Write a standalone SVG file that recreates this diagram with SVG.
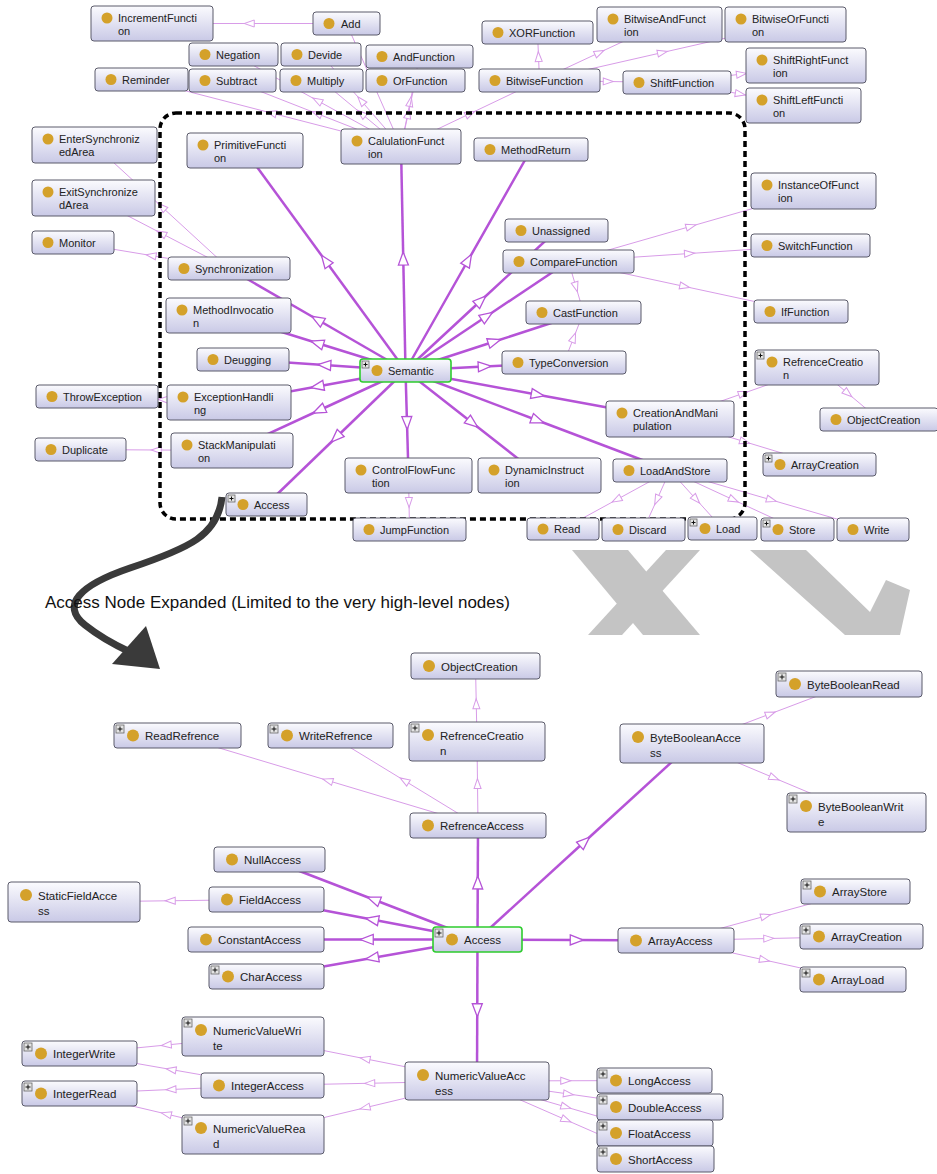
<svg xmlns="http://www.w3.org/2000/svg" width="937" height="1174" viewBox="0 0 937 1174">
<defs>
<linearGradient id="g" x1="0" y1="0" x2="0" y2="1"><stop offset="0" stop-color="#fbfbfe"/><stop offset="1" stop-color="#c9c9e6"/></linearGradient>
<marker id="mt" markerUnits="userSpaceOnUse" markerWidth="12" markerHeight="10" refX="5" refY="3.5" orient="auto" overflow="visible"><path d="M0,0 L10,3.5 L0,7 Z" fill="#fff" stroke="#d89ce8" stroke-width="1"/></marker>
<marker id="mk" markerUnits="userSpaceOnUse" markerWidth="16" markerHeight="12" refX="6.5" refY="5" orient="auto" overflow="visible"><path d="M0,0 L13,5 L0,10 Z" fill="#fff" stroke="#b553d7" stroke-width="1.3"/></marker>
<style>
.n{fill:url(#g);stroke:#5b5b6b;stroke-width:1}
.ng{fill:url(#g);stroke:#2ecc2e;stroke-width:1.6}
.d{fill:#d4a12a}
.t{font-family:"Liberation Sans",Arial,sans-serif;font-size:11px;fill:#222}
.b .t{font-size:11.5px}
.pb{fill:#e4e4e4;stroke:#666;stroke-width:0.8}
.pl{stroke:#111;stroke-width:1}
.e1{fill:none;stroke:#d89ce8;stroke-width:1;marker-mid:url(#mt)}
.e2{fill:none;stroke:#b553d7;stroke-width:2.5;marker-mid:url(#mk)}
.wm{fill:#c4c4c4}
</style>
</defs>
<rect width="937" height="1174" fill="#fff"/>

<g id="watermark">
<polygon class="wm" points="572,550 628,550 700,635 643,635"/>
<polygon class="wm" points="666,550 700,550 622,635 588,635"/>
<polygon class="wm" points="750,550 806,550 870,612 886,580 910,590 900,635 845,635"/>
</g>

<g id="connectors">
<path class="e1" d="M346.5,23.5 L249.25,23.5 L152,23.5"/>
<path class="e1" d="M401,146.5 L373.75,85 L346.5,23.5"/>
<path class="e1" d="M401,146.5 L317.25,100.5 L233.5,54.5"/>
<path class="e1" d="M401,146.5 L361,100.5 L321,54.5"/>
<path class="e1" d="M401,146.5 L410.25,101.5 L419.5,56.5"/>
<path class="e1" d="M401,146.5 L271.25,113 L141.5,79.5"/>
<path class="e1" d="M401,146.5 L316.75,113.5 L232.5,80.5"/>
<path class="e1" d="M401,146.5 L361.25,113.5 L321.5,80.5"/>
<path class="e1" d="M401,146.5 L408.25,113.5 L415.5,80.5"/>
<path class="e1" d="M401,146.5 L470.25,113.5 L539.5,80.5"/>
<path class="e1" d="M539.5,80.5 L538.5,56.5 L537.5,32.5"/>
<path class="e1" d="M539.5,80.5 L599.5,52.5 L659.5,24.5"/>
<path class="e1" d="M539.5,80.5 L662.5,52.5 L785.5,24.5"/>
<path class="e1" d="M539.5,80.5 L608.25,81.5 L677,82.5"/>
<path class="e1" d="M677,82.5 L741.5,74 L806,65.5"/>
<path class="e1" d="M677,82.5 L740.25,94 L803.5,105.5"/>
<path class="e1" d="M229,268.5 L161.75,206.75 L94.5,145"/>
<path class="e1" d="M229,268.5 L161.25,233.25 L93.5,198"/>
<path class="e1" d="M229,268.5 L151,255.5 L73,242.5"/>
<path class="e1" d="M568.5,261.5 L691,226.25 L813.5,191"/>
<path class="e1" d="M568.5,261.5 L689.5,253.5 L810.5,245.5"/>
<path class="e1" d="M568.5,261.5 L684.75,286.5 L801,311.5"/>
<path class="e1" d="M568.5,261.5 L576,287 L583.5,312.5"/>
<path class="e1" d="M564,362.5 L573.75,337.5 L583.5,312.5"/>
<path class="e1" d="M817,367.5 L848,393.5 L879,419.5"/>
<path class="e1" d="M670,419 L743.5,393.25 L817,367.5"/>
<path class="e1" d="M670,419 L744.75,441.75 L819.5,464.5"/>
<path class="e1" d="M670,470.5 L616.5,499.75 L563,529"/>
<path class="e1" d="M670,470.5 L656.75,500 L643.5,529.5"/>
<path class="e1" d="M670,470.5 L696.25,499.5 L722.5,528.5"/>
<path class="e1" d="M670,470.5 L733.75,500 L797.5,529.5"/>
<path class="e1" d="M670,470.5 L771.5,500 L873,529.5"/>
<path class="e1" d="M229,402.5 L163,399.5 L97,396.5"/>
<path class="e1" d="M232,450.5 L156.25,450 L80.5,449.5"/>
<path class="e1" d="M408.5,475.5 L409,502.5 L409.5,529.5"/>

<path class="e2" d="M405.5,370.5 L325.25,260.5 L245,150.5"/>
<path class="e2" d="M405.5,370.5 L403.25,258.5 L401,146.5"/>
<path class="e2" d="M405.5,370.5 L468.25,260 L531,149.5"/>
<path class="e2" d="M405.5,370.5 L317.25,319.5 L229,268.5"/>
<path class="e2" d="M405.5,370.5 L317,343 L228.5,315.5"/>
<path class="e2" d="M405.5,370.5 L324.25,365 L243,359.5"/>
<path class="e2" d="M405.5,370.5 L317.25,386.5 L229,402.5"/>
<path class="e2" d="M405.5,370.5 L318.75,410.5 L232,450.5"/>
<path class="e2" d="M405.5,370.5 L336,437.5 L266.5,504.5"/>
<path class="e2" d="M405.5,370.5 L407,423 L408.5,475.5"/>
<path class="e2" d="M405.5,370.5 L472.5,423 L539.5,475.5"/>
<path class="e2" d="M405.5,370.5 L537.75,420.5 L670,470.5"/>
<path class="e2" d="M405.5,370.5 L537.75,394.75 L670,419"/>
<path class="e2" d="M405.5,370.5 L484.75,366.5 L564,362.5"/>
<path class="e2" d="M405.5,370.5 L494.5,341.5 L583.5,312.5"/>
<path class="e2" d="M405.5,370.5 L487,316 L568.5,261.5"/>
<path class="e2" d="M405.5,370.5 L481,300.5 L556.5,230.5"/>

<path class="e1" d="M478,825.5 L477.5,783.5 L477,741.5"/>
<path class="e1" d="M477,741.5 L476.25,703.75 L475.5,666"/>
<path class="e1" d="M478,825.5 L404.25,780.5 L330.5,735.5"/>
<path class="e1" d="M478,825.5 L327.75,780.5 L177.5,735.5"/>
<path class="e1" d="M692,743.5 L770.5,713.75 L849,684"/>
<path class="e1" d="M692,743.5 L774.25,778 L856.5,812.5"/>
<path class="e1" d="M266.5,899.5 L170.25,900.75 L74,902"/>
<path class="e1" d="M676,940.5 L765.75,916 L855.5,891.5"/>
<path class="e1" d="M676,940.5 L768.75,938.5 L861.5,936.5"/>
<path class="e1" d="M676,940.5 L764.5,960 L853,979.5"/>
<path class="e1" d="M477,1081 L365,1058.75 L253,1036.5"/>
<path class="e1" d="M477,1081 L369.75,1083.25 L262.5,1085.5"/>
<path class="e1" d="M477,1081 L365,1107.75 L253,1134.5"/>
<path class="e1" d="M477,1081 L565.75,1080.75 L654.5,1080.5"/>
<path class="e1" d="M477,1081 L568.5,1094 L660,1107"/>
<path class="e1" d="M477,1081 L566,1107 L655,1133"/>
<path class="e1" d="M477,1081 L566.25,1120 L655.5,1159"/>
<path class="e1" d="M253,1036.5 L166.25,1045 L79.5,1053.5"/>
<path class="e1" d="M262.5,1085.5 L171,1069.5 L79.5,1053.5"/>
<path class="e1" d="M262.5,1085.5 L171,1089.5 L79.5,1093.5"/>
<path class="e1" d="M253,1134.5 L166.25,1114 L79.5,1093.5"/>

<path class="e2" d="M477.5,939.5 L477.75,882.5 L478,825.5"/>
<path class="e2" d="M477.5,939.5 L584.75,841.5 L692,743.5"/>
<path class="e2" d="M477.5,939.5 L373.5,899.5 L269.5,859.5"/>
<path class="e2" d="M477.5,939.5 L372,919.5 L266.5,899.5"/>
<path class="e2" d="M477.5,939.5 L366.75,939.5 L256,939.5"/>
<path class="e2" d="M477.5,939.5 L372,958 L266.5,976.5"/>
<path class="e2" d="M477.5,939.5 L576.75,940 L676,940.5"/>
<path class="e2" d="M477.5,939.5 L477.25,1010.25 L477,1081"/>
</g>

<rect id="focus-box" x="160" y="113" width="585" height="406" rx="16" fill="none" stroke="#000" stroke-width="3.5" stroke-dasharray="6 4"/>

<g id="top-nodes">
<g id="IncrementFunction"><rect class="n" x="91" y="6" width="122" height="35" rx="3"/><circle class="d" cx="107" cy="18" r="5.5"/><text class="t" x="118" y="21.5">IncrementFuncti<tspan x="118" y="34.5">on</tspan></text></g>
<g id="Add"><rect class="n" x="313" y="12" width="67" height="23" rx="3"/><circle class="d" cx="329" cy="23.5" r="5.5"/><text class="t" x="341" y="27.5">Add</text></g>
<g id="Negation"><rect class="n" x="189" y="43" width="89" height="23" rx="3"/><circle class="d" cx="205" cy="54.5" r="5.5"/><text class="t" x="216" y="58.5">Negation</text></g>
<g id="Devide"><rect class="n" x="281" y="43" width="80" height="23" rx="3"/><circle class="d" cx="297" cy="54.5" r="5.5"/><text class="t" x="308" y="58.5">Devide</text></g>
<g id="AndFunction"><rect class="n" x="366" y="45" width="107" height="23" rx="3"/><circle class="d" cx="382" cy="56.5" r="5.5"/><text class="t" x="393" y="60.5">AndFunction</text></g>
<g id="Reminder"><rect class="n" x="95" y="68" width="93" height="23" rx="3"/><circle class="d" cx="111" cy="79.5" r="5.5"/><text class="t" x="122" y="83.5">Reminder</text></g>
<g id="Subtract"><rect class="n" x="189" y="69" width="87" height="23" rx="3"/><circle class="d" cx="205" cy="80.5" r="5.5"/><text class="t" x="216" y="84.5">Subtract</text></g>
<g id="Multiply"><rect class="n" x="280" y="69" width="83" height="23" rx="3"/><circle class="d" cx="296" cy="80.5" r="5.5"/><text class="t" x="307" y="84.5">Multiply</text></g>
<g id="OrFunction"><rect class="n" x="366" y="69" width="99" height="23" rx="3"/><circle class="d" cx="382" cy="80.5" r="5.5"/><text class="t" x="393" y="84.5">OrFunction</text></g>
<g id="XORFunction"><rect class="n" x="482" y="21" width="111" height="23" rx="3"/><circle class="d" cx="498" cy="32.5" r="5.5"/><text class="t" x="509" y="36.5">XORFunction</text></g>
<g id="BitwiseAndFunction"><rect class="n" x="597" y="7" width="125" height="35" rx="3"/><circle class="d" cx="613" cy="19" r="5.5"/><text class="t" x="624" y="22.5">BitwiseAndFunct<tspan x="624" y="35.5">ion</tspan></text></g>
<g id="BitwiseOrFunction"><rect class="n" x="725" y="7" width="121" height="35" rx="3"/><circle class="d" cx="741" cy="19" r="5.5"/><text class="t" x="752" y="22.5">BitwiseOrFuncti<tspan x="752" y="35.5">on</tspan></text></g>
<g id="BitwiseFunction"><rect class="n" x="479" y="69" width="121" height="23" rx="3"/><circle class="d" cx="495" cy="80.5" r="5.5"/><text class="t" x="506" y="84.5">BitwiseFunction</text></g>
<g id="ShiftFunction"><rect class="n" x="623" y="71" width="108" height="23" rx="3"/><circle class="d" cx="639" cy="82.5" r="5.5"/><text class="t" x="650" y="86.5">ShiftFunction</text></g>
<g id="ShiftRightFunction"><rect class="n" x="746" y="48" width="120" height="35" rx="3"/><circle class="d" cx="762" cy="60" r="5.5"/><text class="t" x="773" y="63.5">ShiftRightFunct<tspan x="773" y="76.5">ion</tspan></text></g>
<g id="ShiftLeftFunction"><rect class="n" x="746" y="88" width="115" height="35" rx="3"/><circle class="d" cx="762" cy="100" r="5.5"/><text class="t" x="773" y="103.5">ShiftLeftFuncti<tspan x="773" y="116.5">on</tspan></text></g>
<g id="CalulationFunction"><rect class="n" x="341" y="129" width="120" height="35" rx="3"/><circle class="d" cx="357" cy="141" r="5.5"/><text class="t" x="368" y="144.5">CalulationFunct<tspan x="368" y="157.5">ion</tspan></text></g>
<g id="PrimitiveFunction"><rect class="n" x="187" y="133" width="116" height="35" rx="3"/><circle class="d" cx="203" cy="145" r="5.5"/><text class="t" x="214" y="148.5">PrimitiveFuncti<tspan x="214" y="161.5">on</tspan></text></g>
<g id="MethodReturn"><rect class="n" x="474" y="138" width="114" height="23" rx="3"/><circle class="d" cx="490" cy="149.5" r="5.5"/><text class="t" x="501" y="153.5">MethodReturn</text></g>
<g id="EnterSynchronizedArea"><rect class="n" x="32" y="127" width="125" height="36" rx="3"/><circle class="d" cx="48" cy="139" r="5.5"/><text class="t" x="59" y="142.5">EnterSynchroniz<tspan x="59" y="155.5">edArea</tspan></text></g>
<g id="ExitSynchronizedArea"><rect class="n" x="32" y="180" width="123" height="36" rx="3"/><circle class="d" cx="48" cy="192" r="5.5"/><text class="t" x="59" y="195.5">ExitSynchronize<tspan x="59" y="208.5">dArea</tspan></text></g>
<g id="Monitor"><rect class="n" x="32" y="231" width="82" height="23" rx="3"/><circle class="d" cx="48" cy="242.5" r="5.5"/><text class="t" x="59" y="246.5">Monitor</text></g>
<g id="Synchronization"><rect class="n" x="168" y="257" width="122" height="23" rx="3"/><circle class="d" cx="184" cy="268.5" r="5.5"/><text class="t" x="195" y="272.5">Synchronization</text></g>
<g id="Unassigned"><rect class="n" x="505" y="219" width="103" height="23" rx="3"/><circle class="d" cx="521" cy="230.5" r="5.5"/><text class="t" x="532" y="234.5">Unassigned</text></g>
<g id="CompareFunction"><rect class="n" x="503" y="250" width="131" height="23" rx="3"/><circle class="d" cx="519" cy="261.5" r="5.5"/><text class="t" x="530" y="265.5">CompareFunction</text></g>
<g id="InstanceOfFunction"><rect class="n" x="751" y="173" width="125" height="36" rx="3"/><circle class="d" cx="767" cy="185" r="5.5"/><text class="t" x="778" y="188.5">InstanceOfFunct<tspan x="778" y="201.5">ion</tspan></text></g>
<g id="SwitchFunction"><rect class="n" x="751" y="234" width="119" height="23" rx="3"/><circle class="d" cx="767" cy="245.5" r="5.5"/><text class="t" x="778" y="249.5">SwitchFunction</text></g>
<g id="IfFunction"><rect class="n" x="754" y="300" width="94" height="23" rx="3"/><circle class="d" cx="770" cy="311.5" r="5.5"/><text class="t" x="781" y="315.5">IfFunction</text></g>
<g id="MethodInvocation"><rect class="n" x="166" y="298" width="125" height="35" rx="3"/><circle class="d" cx="182" cy="310" r="5.5"/><text class="t" x="193" y="313.5">MethodInvocatio<tspan x="193" y="326.5">n</tspan></text></g>
<g id="CastFunction"><rect class="n" x="526" y="301" width="115" height="23" rx="3"/><circle class="d" cx="542" cy="312.5" r="5.5"/><text class="t" x="553" y="316.5">CastFunction</text></g>
<g id="Deugging"><rect class="n" x="197" y="348" width="92" height="23" rx="3"/><circle class="d" cx="213" cy="359.5" r="5.5"/><text class="t" x="224" y="363.5">Deugging</text></g>
<g id="Semantic"><rect class="ng" x="360" y="359" width="91" height="23" rx="3"/><rect class="pb" x="362" y="361" width="7" height="7"/><path class="pl" d="M363.5,364.5h4M365.5,362.5v4"/><circle class="d" cx="377" cy="370.5" r="5.5"/><text class="t" x="388" y="374.5">Semantic</text></g>
<g id="TypeConversion"><rect class="n" x="502" y="351" width="124" height="23" rx="3"/><circle class="d" cx="518" cy="362.5" r="5.5"/><text class="t" x="529" y="366.5">TypeConversion</text></g>
<g id="ThrowException"><rect class="n" x="36" y="385" width="122" height="23" rx="3"/><circle class="d" cx="52" cy="396.5" r="5.5"/><text class="t" x="63" y="400.5">ThrowException</text></g>
<g id="ExceptionHandling"><rect class="n" x="167" y="385" width="124" height="35" rx="3"/><circle class="d" cx="183" cy="397" r="5.5"/><text class="t" x="194" y="400.5">ExceptionHandli<tspan x="194" y="413.5">ng</tspan></text></g>
<g id="RefrenceCreation-top"><rect class="n" x="755" y="350" width="124" height="35" rx="3"/><rect class="pb" x="757" y="352" width="7" height="7"/><path class="pl" d="M758.5,355.5h4M760.5,353.5v4"/><circle class="d" cx="772" cy="362" r="5.5"/><text class="t" x="783" y="365.5">RefrenceCreatio<tspan x="783" y="378.5">n</tspan></text></g>
<g id="CreationAndManipulation"><rect class="n" x="606" y="401" width="128" height="36" rx="3"/><circle class="d" cx="622" cy="413" r="5.5"/><text class="t" x="633" y="416.5">CreationAndMani<tspan x="633" y="429.5">pulation</tspan></text></g>
<g id="ObjectCreation-top"><rect class="n" x="820" y="408" width="118" height="23" rx="3"/><circle class="d" cx="836" cy="419.5" r="5.5"/><text class="t" x="847" y="423.5">ObjectCreation</text></g>
<g id="Duplicate"><rect class="n" x="35" y="438" width="91" height="23" rx="3"/><circle class="d" cx="51" cy="449.5" r="5.5"/><text class="t" x="62" y="453.5">Duplicate</text></g>
<g id="StackManipulation"><rect class="n" x="171" y="433" width="122" height="35" rx="3"/><circle class="d" cx="187" cy="445" r="5.5"/><text class="t" x="198" y="448.5">StackManipulati<tspan x="198" y="461.5">on</tspan></text></g>
<g id="ArrayCreation-top"><rect class="n" x="763" y="453" width="113" height="23" rx="3"/><rect class="pb" x="765" y="455" width="7" height="7"/><path class="pl" d="M766.5,458.5h4M768.5,456.5v4"/><circle class="d" cx="780" cy="464.5" r="5.5"/><text class="t" x="791" y="468.5">ArrayCreation</text></g>
<g id="ControlFlowFunction"><rect class="n" x="345" y="458" width="127" height="35" rx="3"/><circle class="d" cx="361" cy="470" r="5.5"/><text class="t" x="372" y="473.5">ControlFlowFunc<tspan x="372" y="486.5">tion</tspan></text></g>
<g id="DynamicInstruction"><rect class="n" x="478" y="458" width="123" height="35" rx="3"/><circle class="d" cx="494" cy="470" r="5.5"/><text class="t" x="505" y="473.5">DynamicInstruct<tspan x="505" y="486.5">ion</tspan></text></g>
<g id="LoadAndStore"><rect class="n" x="613" y="459" width="114" height="23" rx="3"/><circle class="d" cx="629" cy="470.5" r="5.5"/><text class="t" x="640" y="474.5">LoadAndStore</text></g>
<g id="Access-top"><rect class="n" x="226" y="493" width="81" height="23" rx="3"/><rect class="pb" x="228" y="495" width="7" height="7"/><path class="pl" d="M229.5,498.5h4M231.5,496.5v4"/><circle class="d" cx="243" cy="504.5" r="5.5"/><text class="t" x="254" y="508.5">Access</text></g>
<g id="JumpFunction"><rect class="n" x="353" y="518" width="113" height="23" rx="3"/><circle class="d" cx="369" cy="529.5" r="5.5"/><text class="t" x="380" y="533.5">JumpFunction</text></g>
<g id="Read"><rect class="n" x="527" y="518" width="72" height="22" rx="3"/><circle class="d" cx="543" cy="529" r="5.5"/><text class="t" x="554" y="533">Read</text></g>
<g id="Discard"><rect class="n" x="602" y="518" width="83" height="23" rx="3"/><circle class="d" cx="618" cy="529.5" r="5.5"/><text class="t" x="629" y="533.5">Discard</text></g>
<g id="Load"><rect class="n" x="688" y="517" width="69" height="23" rx="3"/><rect class="pb" x="690" y="519" width="7" height="7"/><path class="pl" d="M691.5,522.5h4M693.5,520.5v4"/><circle class="d" cx="705" cy="528.5" r="5.5"/><text class="t" x="716" y="532.5">Load</text></g>
<g id="Store"><rect class="n" x="761" y="518" width="73" height="23" rx="3"/><rect class="pb" x="763" y="520" width="7" height="7"/><path class="pl" d="M764.5,523.5h4M766.5,521.5v4"/><circle class="d" cx="778" cy="529.5" r="5.5"/><text class="t" x="789" y="533.5">Store</text></g>
<g id="Write"><rect class="n" x="837" y="518" width="72" height="23" rx="3"/><circle class="d" cx="853" cy="529.5" r="5.5"/><text class="t" x="864" y="533.5">Write</text></g>
</g>

<g id="expand-arrow">
<path d="M222,497 C218,535 190,548 130,568 C80,585 60,605 85,625 C100,637 115,645 130,652" fill="none" stroke="#3a3a3a" stroke-width="7"/>
<polygon points="160,669 112,664 146,626" fill="#3a3a3a"/>
</g>
<text id="caption" x="45" y="608" font-family="Liberation Sans, Arial, sans-serif" font-size="17" fill="#111">Access Node Expanded (Limited to the very high-level nodes)</text>

<g id="bottom-nodes" class="b">
<g id="ObjectCreation"><rect class="n" x="411" y="653" width="129" height="26" rx="3"/><circle class="d" cx="429" cy="666" r="6"/><text class="t" x="441" y="670.5">ObjectCreation</text></g>
<g id="ByteBooleanRead"><rect class="n" x="776" y="671" width="146" height="26" rx="3"/><rect class="pb" x="778" y="673" width="8" height="8"/><path class="pl" d="M779.5,677h5M782,674.5v5"/><circle class="d" cx="795" cy="684" r="6"/><text class="t" x="807" y="688.5">ByteBooleanRead</text></g>
<g id="ReadRefrence"><rect class="n" x="114" y="723" width="127" height="25" rx="3"/><rect class="pb" x="116" y="725" width="8" height="8"/><path class="pl" d="M117.5,729h5M120,726.5v5"/><circle class="d" cx="133" cy="735.5" r="6"/><text class="t" x="145" y="740">ReadRefrence</text></g>
<g id="WriteRefrence"><rect class="n" x="268" y="723" width="125" height="25" rx="3"/><rect class="pb" x="270" y="725" width="8" height="8"/><path class="pl" d="M271.5,729h5M274,726.5v5"/><circle class="d" cx="287" cy="735.5" r="6"/><text class="t" x="299" y="740">WriteRefrence</text></g>
<g id="RefrenceCreation"><rect class="n" x="409" y="722" width="136" height="39" rx="3"/><rect class="pb" x="411" y="724" width="8" height="8"/><path class="pl" d="M412.5,728h5M415,725.5v5"/><circle class="d" cx="428" cy="735" r="6"/><text class="t" x="440" y="739.5">RefrenceCreatio<tspan x="440" y="754.5">n</tspan></text></g>
<g id="ByteBooleanAccess"><rect class="n" x="620" y="724" width="144" height="39" rx="3"/><circle class="d" cx="638" cy="737" r="6"/><text class="t" x="650" y="741.5">ByteBooleanAcce<tspan x="650" y="756.5">ss</tspan></text></g>
<g id="ByteBooleanWrite"><rect class="n" x="787" y="793" width="139" height="39" rx="3"/><rect class="pb" x="789" y="795" width="8" height="8"/><path class="pl" d="M790.5,799h5M793,796.5v5"/><circle class="d" cx="806" cy="806" r="6"/><text class="t" x="818" y="810.5">ByteBooleanWrit<tspan x="818" y="825.5">e</tspan></text></g>
<g id="RefrenceAccess"><rect class="n" x="410" y="813" width="136" height="25" rx="3"/><circle class="d" cx="428" cy="825.5" r="6"/><text class="t" x="440" y="830">RefrenceAccess</text></g>
<g id="NullAccess"><rect class="n" x="214" y="847" width="111" height="25" rx="3"/><circle class="d" cx="232" cy="859.5" r="6"/><text class="t" x="244" y="864">NullAccess</text></g>
<g id="StaticFieldAccess"><rect class="n" x="8" y="882" width="132" height="40" rx="3"/><circle class="d" cx="26" cy="895" r="6"/><text class="t" x="38" y="899.5">StaticFieldAcce<tspan x="38" y="914.5">ss</tspan></text></g>
<g id="FieldAccess"><rect class="n" x="209" y="887" width="115" height="25" rx="3"/><circle class="d" cx="227" cy="899.5" r="6"/><text class="t" x="239" y="904">FieldAccess</text></g>
<g id="ArrayStore"><rect class="n" x="801" y="879" width="109" height="25" rx="3"/><rect class="pb" x="803" y="881" width="8" height="8"/><path class="pl" d="M804.5,885h5M807,882.5v5"/><circle class="d" cx="820" cy="891.5" r="6"/><text class="t" x="832" y="896">ArrayStore</text></g>
<g id="ConstantAccess"><rect class="n" x="188" y="927" width="136" height="25" rx="3"/><circle class="d" cx="206" cy="939.5" r="6"/><text class="t" x="218" y="944">ConstantAccess</text></g>
<g id="Access"><rect class="ng" x="433" y="927" width="89" height="25" rx="3"/><rect class="pb" x="435" y="929" width="8" height="8"/><path class="pl" d="M436.5,933h5M439,930.5v5"/><circle class="d" cx="452" cy="939.5" r="6"/><text class="t" x="464" y="944">Access</text></g>
<g id="ArrayAccess"><rect class="n" x="618" y="928" width="116" height="25" rx="3"/><circle class="d" cx="636" cy="940.5" r="6"/><text class="t" x="648" y="945">ArrayAccess</text></g>
<g id="ArrayCreation"><rect class="n" x="800" y="924" width="123" height="25" rx="3"/><rect class="pb" x="802" y="926" width="8" height="8"/><path class="pl" d="M803.5,930h5M806,927.5v5"/><circle class="d" cx="819" cy="936.5" r="6"/><text class="t" x="831" y="941">ArrayCreation</text></g>
<g id="CharAccess"><rect class="n" x="209" y="964" width="115" height="25" rx="3"/><rect class="pb" x="211" y="966" width="8" height="8"/><path class="pl" d="M212.5,970h5M215,967.5v5"/><circle class="d" cx="228" cy="976.5" r="6"/><text class="t" x="240" y="981">CharAccess</text></g>
<g id="ArrayLoad"><rect class="n" x="800" y="967" width="106" height="25" rx="3"/><rect class="pb" x="802" y="969" width="8" height="8"/><path class="pl" d="M803.5,973h5M806,970.5v5"/><circle class="d" cx="819" cy="979.5" r="6"/><text class="t" x="831" y="984">ArrayLoad</text></g>
<g id="NumericValueWrite"><rect class="n" x="182" y="1017" width="142" height="39" rx="3"/><rect class="pb" x="184" y="1019" width="8" height="8"/><path class="pl" d="M185.5,1023h5M188,1020.5v5"/><circle class="d" cx="201" cy="1030" r="6"/><text class="t" x="213" y="1034.5">NumericValueWri<tspan x="213" y="1049.5">te</tspan></text></g>
<g id="IntegerWrite"><rect class="n" x="22" y="1041" width="115" height="25" rx="3"/><rect class="pb" x="24" y="1043" width="8" height="8"/><path class="pl" d="M25.5,1047h5M28,1044.5v5"/><circle class="d" cx="41" cy="1053.5" r="6"/><text class="t" x="53" y="1058">IntegerWrite</text></g>
<g id="NumericValueAccess"><rect class="n" x="405" y="1062" width="144" height="38" rx="3"/><circle class="d" cx="423" cy="1075" r="6"/><text class="t" x="435" y="1079.5">NumericValueAcc<tspan x="435" y="1094.5">ess</tspan></text></g>
<g id="IntegerAccess"><rect class="n" x="201" y="1073" width="123" height="25" rx="3"/><circle class="d" cx="219" cy="1085.5" r="6"/><text class="t" x="231" y="1090">IntegerAccess</text></g>
<g id="LongAccess"><rect class="n" x="597" y="1068" width="115" height="25" rx="3"/><rect class="pb" x="599" y="1070" width="8" height="8"/><path class="pl" d="M600.5,1074h5M603,1071.5v5"/><circle class="d" cx="616" cy="1080.5" r="6"/><text class="t" x="628" y="1085">LongAccess</text></g>
<g id="IntegerRead"><rect class="n" x="22" y="1081" width="115" height="25" rx="3"/><rect class="pb" x="24" y="1083" width="8" height="8"/><path class="pl" d="M25.5,1087h5M28,1084.5v5"/><circle class="d" cx="41" cy="1093.5" r="6"/><text class="t" x="53" y="1098">IntegerRead</text></g>
<g id="DoubleAccess"><rect class="n" x="597" y="1094" width="126" height="26" rx="3"/><rect class="pb" x="599" y="1096" width="8" height="8"/><path class="pl" d="M600.5,1100h5M603,1097.5v5"/><circle class="d" cx="616" cy="1107" r="6"/><text class="t" x="628" y="1111.5">DoubleAccess</text></g>
<g id="FloatAccess"><rect class="n" x="597" y="1120" width="116" height="26" rx="3"/><rect class="pb" x="599" y="1122" width="8" height="8"/><path class="pl" d="M600.5,1126h5M603,1123.5v5"/><circle class="d" cx="616" cy="1133" r="6"/><text class="t" x="628" y="1137.5">FloatAccess</text></g>
<g id="NumericValueRead"><rect class="n" x="182" y="1115" width="142" height="39" rx="3"/><rect class="pb" x="184" y="1117" width="8" height="8"/><path class="pl" d="M185.5,1121h5M188,1118.5v5"/><circle class="d" cx="201" cy="1128" r="6"/><text class="t" x="213" y="1132.5">NumericValueRea<tspan x="213" y="1147.5">d</tspan></text></g>
<g id="ShortAccess"><rect class="n" x="597" y="1146" width="117" height="26" rx="3"/><rect class="pb" x="599" y="1148" width="8" height="8"/><path class="pl" d="M600.5,1152h5M603,1149.5v5"/><circle class="d" cx="616" cy="1159" r="6"/><text class="t" x="628" y="1163.5">ShortAccess</text></g>
</g>
</svg>
